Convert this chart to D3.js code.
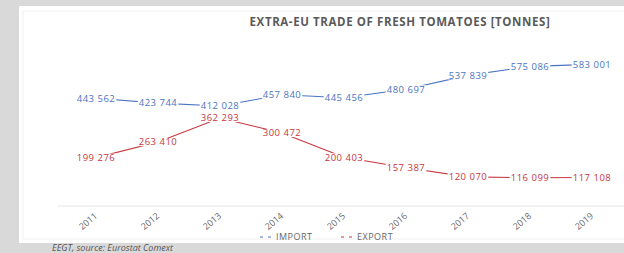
<!DOCTYPE html>
<html>
<head>
<meta charset="utf-8">
<script src="https://cdn.jsdelivr.net/npm/d3@7"></script>
<style>
	body { margin: 0; background: #d9d9d9; }
	svg { display: block; }
</style>
</head>
<body>
<div class="chart"></div>
<script>
const years = ["2011", "2012", "2013", "2014", "2015", "2016", "2017", "2018", "2019"];
const importValues = [443562, 423744, 412028, 457840, 445456, 480697, 537839, 575086, 583001];
const exportValues = [199276, 263410, 362293, 300472, 200403, 157387, 120070, 116099, 117108];
const seriesNames = ["IMPORT", "EXPORT"];

let width = 624, height = 253;

let svg = d3.select(".chart")
	.append("svg")
	.attr("width", width)
	.attr("height", height);

// white chart panel
svg.append("rect")
	.attr("x", 19).attr("y", 6)
	.attr("width", width).attr("height", 237)
	.attr("fill", "#ffffff");
svg.append("rect")
	.attr("x", 23).attr("y", 11)
	.attr("width", width).attr("height", 228)
	.attr("fill", "none")
	.attr("stroke", "#f0f0f0");

svg.append("text")
	.attr("x", 400).attr("y", 26)
	.attr("text-anchor", "middle")
	.attr("font-family", "Open Sans")
	.attr("font-size", 11.5)
	.attr("font-weight", "bold")
	.attr("letter-spacing", 0.6)
	.attr("fill", "#5a5a5a")
	.text("EXTRA-EU TRADE OF FRESH TOMATOES [TONNES]");

let x = d3.scaleBand()
	.domain(years)
	.range([65, 623])
	.paddingInner(0);

let y = d3.scaleLinear()
	.domain([0, 700000])
	.range([206, 36]);

// category axis
let xAxis = svg.append("g")
	.attr("transform", "translate(0,206)")
	.call(d3.axisBottom(x).tickSize(0).tickPadding(0));
xAxis.select(".domain").remove();
xAxis.append("line")
	.attr("x1", 58).attr("x2", width)
	.attr("stroke", "#e4e4e4");
xAxis.selectAll(".tick text")
	.attr("font-family", "Open Sans")
	.attr("font-size", 9)
	.attr("fill", "#6a6a6a")
	.attr("text-anchor", "end")
	.attr("dy", 0)
	.attr("transform", "translate(2,11) rotate(-40)");

let series = [
	{name: seriesNames[0], values: importValues, color: "#4a74c2"},
	{name: seriesNames[1], values: exportValues, color: "#c8363d"}
];

let line = d3.line()
	.x((d, i) => x(years[i]) + x.bandwidth() / 2)
	.y(d => y(d));

let fmt = v => d3.format(",")(v).replace(",", "\u00a0");

series.forEach(s => {
	svg.append("path")
		.datum(s.values)
		.attr("fill", "none")
		.attr("stroke", s.color)
		.attr("stroke-width", 1.1)
		.attr("d", line);
});

series.forEach(s => {
	let labels = svg.selectAll(".lbl-" + s.name)
		.data(s.values)
		.enter().append("g")
		.attr("class", "lbl-" + s.name)
		.attr("transform", (d, i) => "translate(" + (x(years[i]) + x.bandwidth() / 2) + "," + y(d) + ")");

	let bg = labels.append("rect").attr("fill", "#ffffff");

	labels.append("text")
		.attr("dy", "0.35em")
		.attr("text-anchor", "middle")
		.attr("font-family", "Open Sans")
		.attr("font-size", 9.5)
		.attr("letter-spacing", 0.5)
		.attr("fill", s.color)
		.text(d => fmt(d));

	bg.each(function() {
		let b = this.parentNode.querySelector("text").getBBox();
		d3.select(this)
			.attr("x", b.x - 1).attr("y", -4)
			.attr("width", b.width + 2).attr("height", 8);
	});
});

// legend
let legend = svg.append("g")
	.attr("transform", "translate(260,237)");
let legendItems = legend.selectAll("g")
	.data(series)
	.enter().append("g")
	.attr("transform", (d, i) => "translate(" + (i * 81) + ",0)");
legendItems.append("line")
	.attr("x1", 0).attr("x2", 13)
	.attr("stroke", d => d.color)
	.attr("stroke-width", 1.2)
	.attr("stroke-dasharray", "3,5");
legendItems.append("text")
	.attr("x", 16)
	.attr("dy", "0.35em")
	.attr("font-family", "Open Sans")
	.attr("font-size", 9)
	.attr("letter-spacing", 0.5)
	.attr("fill", "#666666")
	.text(d => d.name);

svg.append("text")
	.attr("x", 52).attr("y", 251)
	.attr("font-family", "Open Sans")
	.attr("font-size", 9)
	.attr("font-style", "italic")
	.attr("fill", "#555555")
	.text("EEGT, source: Eurostat Comext");
</script>
</body>
</html>
